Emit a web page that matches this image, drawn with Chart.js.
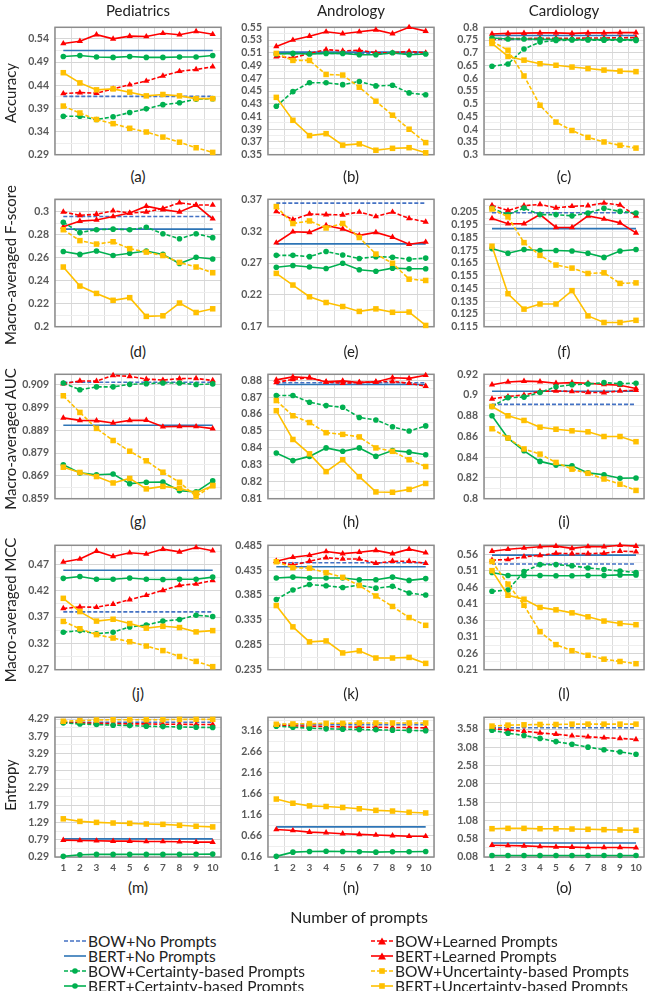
<!DOCTYPE html>
<html>
<head>
<meta charset="utf-8">
<script src="https://cdn.jsdelivr.net/npm/chart.js@4.4.1/dist/chart.umd.min.js"></script>
<style>
  body { margin: 0; background: #fff; }
  #page { position: relative; width: 647px; height: 991px; overflow: hidden; font-family: Lato, "Open Sans", sans-serif; color: #222; }
  canvas { position: absolute; }
  .txt { position: absolute; white-space: nowrap; transform: translate(-50%, -50%); }
  .ytitle { position: absolute; white-space: nowrap; transform: translate(-50%, -50%) rotate(-90deg); font-size: 15px; }
  .legend-item { position: absolute; white-space: nowrap; font-size: 15.5px; display: flex; align-items: center; transform: translateY(-50%); }
  .legend-item svg { margin-right: 2px; }
</style>
</head>
<body>
<div id="page"></div>
<script>
// x categories
const prompts = ['1', '2', '3', '4', '5', '6', '7', '8', '9', '10']
const seriesNames = ['BOW+No Prompts', 'BERT+No Prompts', 'BOW+Learned Prompts', 'BERT+Learned Prompts',
  'BOW+Certainty-based Prompts', 'BERT+Certainty-based Prompts', 'BOW+Uncertainty-based Prompts', 'BERT+Uncertainty-based Prompts']
const columns = ['Pediatrics', 'Andrology', 'Cardiology']
const metrics = ['Accuracy', 'Macro-averaged F-score', 'Macro-averaged AUC', 'Macro-averaged MCC', 'Entropy']
const panelLetters = ['(a)', '(b)', '(c)', '(d)', '(e)', '(f)', '(g)', '(h)', '(i)', '(j)', '(k)', '(l)', '(m)', '(n)', '(o)']

// each panel: BOW none, BERT none, BOW learned, BERT learned, BOW certainty, BERT certainty, BOW uncertainty, BERT uncertainty
const accPed = [
  [0.416, 0.416, 0.416, 0.416, 0.416, 0.416, 0.416, 0.416, 0.416, 0.416],
  [0.515, 0.515, 0.515, 0.515, 0.515, 0.515, 0.515, 0.515, 0.515, 0.515],
  [0.422, 0.424, 0.423, 0.432, 0.441, 0.449, 0.460, 0.470, 0.474, 0.480],
  [0.530, 0.535, 0.549, 0.540, 0.546, 0.545, 0.552, 0.549, 0.556, 0.550],
  [0.373, 0.373, 0.366, 0.372, 0.381, 0.389, 0.398, 0.402, 0.410, 0.411],
  [0.502, 0.504, 0.501, 0.500, 0.502, 0.500, 0.500, 0.501, 0.501, 0.504],
  [0.395, 0.380, 0.366, 0.357, 0.347, 0.339, 0.328, 0.317, 0.305, 0.295],
  [0.467, 0.445, 0.430, 0.432, 0.425, 0.417, 0.420, 0.417, 0.411, 0.411]
]
const accAnd = [
  [0.509, 0.509, 0.509, 0.509, 0.509, 0.509, 0.509, 0.509, 0.509, 0.509],
  [0.511, 0.511, 0.511, 0.511, 0.511, 0.511, 0.511, 0.511, 0.511, 0.511],
  [0.504, 0.502, 0.509, 0.515, 0.513, 0.514, 0.510, 0.510, 0.512, 0.510],
  [0.520, 0.530, 0.536, 0.543, 0.540, 0.543, 0.546, 0.540, 0.550, 0.544],
  [0.426, 0.449, 0.463, 0.463, 0.460, 0.465, 0.458, 0.459, 0.447, 0.444],
  [0.508, 0.509, 0.508, 0.509, 0.509, 0.507, 0.507, 0.510, 0.507, 0.508],
  [0.509, 0.498, 0.498, 0.476, 0.475, 0.456, 0.434, 0.412, 0.390, 0.369],
  [0.440, 0.404, 0.380, 0.383, 0.365, 0.367, 0.357, 0.360, 0.361, 0.353]
]
const accCar = [
  [0.752, 0.752, 0.752, 0.752, 0.752, 0.752, 0.752, 0.752, 0.752, 0.752],
  [0.768, 0.768, 0.768, 0.768, 0.768, 0.768, 0.768, 0.768, 0.768, 0.768],
  [0.755, 0.756, 0.756, 0.757, 0.757, 0.757, 0.758, 0.758, 0.759, 0.760],
  [0.774, 0.776, 0.777, 0.778, 0.778, 0.776, 0.778, 0.778, 0.779, 0.779],
  [0.647, 0.656, 0.715, 0.742, 0.748, 0.750, 0.750, 0.749, 0.750, 0.748],
  [0.758, 0.754, 0.754, 0.753, 0.753, 0.752, 0.752, 0.752, 0.752, 0.751],
  [0.745, 0.710, 0.609, 0.494, 0.428, 0.395, 0.368, 0.350, 0.337, 0.326],
  [0.737, 0.686, 0.671, 0.657, 0.651, 0.644, 0.638, 0.632, 0.628, 0.626]
]
const f1Ped = [
  [0.296, 0.296, 0.296, 0.296, 0.296, 0.296, 0.296, 0.296, 0.296, 0.296],
  [0.285, 0.285, 0.285, 0.285, 0.285, 0.285, 0.285, 0.285, 0.285, 0.285],
  [0.300, 0.297, 0.298, 0.301, 0.299, 0.300, 0.303, 0.308, 0.306, 0.306],
  [0.287, 0.292, 0.293, 0.296, 0.299, 0.305, 0.302, 0.300, 0.306, 0.294],
  [0.291, 0.282, 0.2845, 0.285, 0.2845, 0.2866, 0.281, 0.2766, 0.281, 0.2776],
  [0.2655, 0.263, 0.266, 0.262, 0.264, 0.266, 0.263, 0.255, 0.2605, 0.259],
  [0.2845, 0.275, 0.272, 0.274, 0.268, 0.265, 0.262, 0.256, 0.252, 0.247],
  [0.252, 0.2354, 0.229, 0.223, 0.2253, 0.209, 0.2095, 0.2206, 0.2124, 0.2156]
]
const f1And = [
  [0.364, 0.364, 0.364, 0.364, 0.364, 0.364, 0.364, 0.364, 0.364, 0.364],
  [0.300, 0.300, 0.300, 0.300, 0.300, 0.300, 0.300, 0.300, 0.300, 0.300],
  [0.351, 0.338, 0.347, 0.346, 0.3456, 0.350, 0.343, 0.350, 0.340, 0.3345],
  [0.3018, 0.319, 0.318, 0.329, 0.3235, 0.3134, 0.318, 0.3105, 0.2994, 0.303],
  [0.282, 0.282, 0.280, 0.288, 0.2826, 0.277, 0.280, 0.279, 0.2758, 0.2777],
  [0.2633, 0.266, 0.2638, 0.2614, 0.2696, 0.2595, 0.257, 0.2619, 0.261, 0.261],
  [0.3586, 0.332, 0.336, 0.325, 0.332, 0.310, 0.284, 0.2696, 0.2446, 0.2426],
  [0.2537, 0.2354, 0.217, 0.208, 0.2017, 0.194, 0.198, 0.1926, 0.193, 0.172]
]
const f1Car = [
  [0.2045, 0.2045, 0.2045, 0.2045, 0.2045, 0.2045, 0.2045, 0.2045, 0.2045, 0.2045],
  [0.192, 0.192, 0.192, 0.192, 0.192, 0.192, 0.192, 0.192, 0.192, 0.192],
  [0.2102, 0.2062, 0.210, 0.211, 0.2083, 0.2095, 0.210, 0.2121, 0.2105, 0.202],
  [0.200, 0.1958, 0.1958, 0.203, 0.1929, 0.1929, 0.202, 0.1995, 0.1965, 0.1886],
  [0.2079, 0.203, 0.2081, 0.203, 0.203, 0.202, 0.2043, 0.2079, 0.2055, 0.2043],
  [0.1763, 0.1727, 0.1756, 0.1748, 0.1748, 0.1744, 0.1727, 0.1694, 0.1744, 0.1756],
  [0.2074, 0.2012, 0.181, 0.171, 0.1634, 0.161, 0.1568, 0.1573, 0.149, 0.1494],
  [0.1782, 0.1409, 0.1288, 0.1328, 0.1328, 0.1433, 0.1235, 0.1183, 0.1183, 0.120]
]
const aucPed = [
  [0.910, 0.910, 0.910, 0.910, 0.910, 0.910, 0.910, 0.910, 0.910, 0.910],
  [0.8912, 0.8912, 0.8912, 0.8912, 0.8912, 0.8912, 0.8912, 0.8912, 0.8912, 0.8912],
  [0.9094, 0.9106, 0.9105, 0.913, 0.9126, 0.9114, 0.911, 0.9116, 0.9117, 0.9108],
  [0.8944, 0.8933, 0.8932, 0.8922, 0.8933, 0.8934, 0.8905, 0.8907, 0.8906, 0.8897],
  [0.9097, 0.9067, 0.908, 0.908, 0.9091, 0.9094, 0.9097, 0.9097, 0.909, 0.9093],
  [0.8739, 0.8703, 0.8695, 0.8698, 0.8656, 0.8662, 0.8663, 0.8625, 0.862, 0.8668],
  [0.9041, 0.8968, 0.8898, 0.8845, 0.8798, 0.8756, 0.8706, 0.8662, 0.8600, 0.8648],
  [0.8728, 0.8705, 0.8687, 0.8659, 0.8679, 0.8633, 0.8644, 0.8636, 0.8615, 0.8647]
]
const aucAnd = [
  [0.8785, 0.8785, 0.8785, 0.8785, 0.8785, 0.8785, 0.8785, 0.8785, 0.8785, 0.8785],
  [0.8775, 0.8775, 0.8775, 0.8775, 0.8775, 0.8775, 0.8775, 0.8775, 0.8775, 0.8775],
  [0.8787, 0.8805, 0.8815, 0.879, 0.8782, 0.8787, 0.879, 0.8793, 0.8782, 0.8765],
  [0.8802, 0.882, 0.8815, 0.879, 0.8796, 0.8787, 0.879, 0.8815, 0.8811, 0.8829],
  [0.871, 0.871, 0.867, 0.865, 0.864, 0.858, 0.8565, 0.8525, 0.850, 0.853],
  [0.837, 0.8325, 0.835, 0.840, 0.838, 0.840, 0.835, 0.8385, 0.8375, 0.836],
  [0.868, 0.859, 0.855, 0.849, 0.848, 0.8465, 0.840, 0.838, 0.833, 0.829],
  [0.862, 0.845, 0.8365, 0.826, 0.833, 0.823, 0.814, 0.8138, 0.8155, 0.819]
]
const aucCar = [
  [0.891, 0.891, 0.891, 0.891, 0.891, 0.891, 0.891, 0.891, 0.891, 0.891],
  [0.9037, 0.9037, 0.9037, 0.9037, 0.9037, 0.9037, 0.9037, 0.9037, 0.9037, 0.9037],
  [0.8963, 0.8986, 0.900, 0.9035, 0.904, 0.9034, 0.9026, 0.9023, 0.904, 0.9046],
  [0.910, 0.9126, 0.9134, 0.9129, 0.9114, 0.912, 0.9114, 0.9103, 0.9094, 0.9063],
  [0.889, 0.8975, 0.898, 0.9025, 0.908, 0.910, 0.9106, 0.912, 0.911, 0.9114],
  [0.880, 0.8584, 0.8462, 0.836, 0.8324, 0.8318, 0.8249, 0.8231, 0.8197, 0.820],
  [0.8675, 0.8585, 0.848, 0.843, 0.835, 0.8285, 0.8245, 0.819, 0.814, 0.808],
  [0.889, 0.880, 0.8755, 0.869, 0.867, 0.8655, 0.8645, 0.860, 0.860, 0.855]
]
const mccPed = [
  [0.380, 0.380, 0.380, 0.380, 0.380, 0.380, 0.380, 0.380, 0.380, 0.380],
  [0.459, 0.459, 0.459, 0.459, 0.459, 0.459, 0.459, 0.459, 0.459, 0.459],
  [0.3864, 0.3893, 0.3887, 0.3946, 0.4033, 0.4115, 0.4209, 0.4302, 0.4332, 0.4396],
  [0.4747, 0.4805, 0.4953, 0.4853, 0.4923, 0.490, 0.4993, 0.494, 0.5023, 0.4963],
  [0.3413, 0.3443, 0.3384, 0.3413, 0.3513, 0.3548, 0.3624, 0.3653, 0.3735, 0.3712],
  [0.4437, 0.4472, 0.442, 0.442, 0.4443, 0.442, 0.4414, 0.442, 0.442, 0.446],
  [0.3618, 0.3478, 0.3367, 0.3302, 0.3232, 0.315, 0.3063, 0.2951, 0.2858, 0.2758],
  [0.4057, 0.3805, 0.3624, 0.3659, 0.3577, 0.349, 0.3525, 0.3501, 0.3419, 0.3443]
]
const mccAnd = [
  [0.450, 0.450, 0.450, 0.450, 0.450, 0.450, 0.450, 0.450, 0.450, 0.450],
  [0.442, 0.442, 0.442, 0.442, 0.442, 0.442, 0.442, 0.442, 0.442, 0.442],
  [0.453, 0.445, 0.453, 0.4603, 0.4574, 0.4574, 0.4489, 0.453, 0.453, 0.4489],
  [0.453, 0.461, 0.465, 0.4724, 0.4683, 0.4711, 0.4747, 0.4683, 0.4772, 0.470],
  [0.376, 0.3952, 0.4061, 0.4037, 0.4001, 0.4049, 0.3989, 0.4025, 0.3892, 0.385],
  [0.4193, 0.4211, 0.4193, 0.4193, 0.4193, 0.4157, 0.4157, 0.4211, 0.4145, 0.4181],
  [0.452, 0.440, 0.439, 0.430, 0.4206, 0.4043, 0.3832, 0.3621, 0.3398, 0.3242],
  [0.3639, 0.3211, 0.291, 0.2928, 0.2687, 0.2729, 0.2585, 0.2585, 0.2597, 0.2477]
]
const mccCar = [
  [0.531, 0.531, 0.531, 0.531, 0.531, 0.531, 0.531, 0.531, 0.531, 0.531],
  [0.558, 0.558, 0.558, 0.558, 0.558, 0.558, 0.558, 0.558, 0.558, 0.558],
  [0.543, 0.5448, 0.5533, 0.5572, 0.5637, 0.5628, 0.5628, 0.5637, 0.5703, 0.5684],
  [0.570, 0.5758, 0.5798, 0.5834, 0.5854, 0.5787, 0.5843, 0.5834, 0.5882, 0.5854],
  [0.4482, 0.4519, 0.5082, 0.5294, 0.5294, 0.5257, 0.5192, 0.5146, 0.510, 0.5054],
  [0.5054, 0.4962, 0.4962, 0.4962, 0.4955, 0.4955, 0.4962, 0.4962, 0.498, 0.498],
  [0.5386, 0.470, 0.4058, 0.3255, 0.2862, 0.2677, 0.2538, 0.242, 0.235, 0.2283],
  [0.511, 0.4362, 0.4242, 0.3993, 0.3919, 0.3827, 0.3707, 0.3578, 0.3504, 0.3467]
]
const entPed = [
  [4.196, 4.196, 4.196, 4.196, 4.196, 4.196, 4.196, 4.196, 4.196, 4.196],
  [0.815, 0.815, 0.815, 0.815, 0.815, 0.815, 0.815, 0.815, 0.815, 0.815],
  [4.196, 4.177, 4.167, 4.158, 4.148, 4.148, 4.139, 4.139, 4.13, 4.13],
  [0.778, 0.768, 0.759, 0.75, 0.75, 0.74, 0.74, 0.73, 0.72, 0.72],
  [4.177, 4.148, 4.13, 4.11, 4.10, 4.08, 4.07, 4.06, 4.05, 4.045],
  [0.309, 0.356, 0.365, 0.365, 0.365, 0.365, 0.365, 0.365, 0.370, 0.374],
  [4.224, 4.243, 4.262, 4.27, 4.27, 4.27, 4.27, 4.28, 4.28, 4.28],
  [1.397, 1.322, 1.294, 1.275, 1.266, 1.247, 1.237, 1.209, 1.181, 1.162]
]
const entAnd = [
  [3.306, 3.306, 3.306, 3.306, 3.306, 3.306, 3.306, 3.306, 3.306, 3.306],
  [0.875, 0.875, 0.875, 0.875, 0.875, 0.875, 0.875, 0.875, 0.875, 0.875],
  [3.291, 3.275, 3.268, 3.26, 3.252, 3.245, 3.245, 3.237, 3.237, 3.229],
  [0.814, 0.79, 0.752, 0.737, 0.714, 0.698, 0.683, 0.668, 0.652, 0.652],
  [3.268, 3.245, 3.222, 3.206, 3.198, 3.191, 3.183, 3.175, 3.168, 3.16],
  [0.175, 0.275, 0.291, 0.298, 0.291, 0.283, 0.275, 0.283, 0.283, 0.291],
  [3.314, 3.322, 3.329, 3.337, 3.337, 3.345, 3.345, 3.345, 3.345, 3.345],
  [1.537, 1.437, 1.375, 1.36, 1.337, 1.306, 1.268, 1.252, 1.222, 1.206]
]
const entCar = [
  [3.615, 3.615, 3.615, 3.615, 3.615, 3.615, 3.615, 3.615, 3.615, 3.615],
  [0.463, 0.463, 0.463, 0.463, 0.463, 0.463, 0.463, 0.463, 0.463, 0.463],
  [3.589, 3.553, 3.518, 3.474, 3.438, 3.394, 3.368, 3.341, 3.323, 3.297],
  [0.402, 0.393, 0.384, 0.367, 0.358, 0.35, 0.341, 0.341, 0.341, 0.332],
  [3.545, 3.465, 3.403, 3.323, 3.235, 3.164, 3.084, 3.014, 2.952, 2.89],
  [0.123, 0.123, 0.123, 0.122, 0.122, 0.122, 0.121, 0.121, 0.121, 0.121],
  [3.66, 3.686, 3.695, 3.704, 3.704, 3.713, 3.713, 3.713, 3.713, 3.713],
  [0.854, 0.863, 0.863, 0.854, 0.854, 0.845, 0.837, 0.828, 0.819, 0.81]
]

// y tick labels per panel
const accPedTicks = ['0.29', '0.34', '0.39', '0.44', '0.49', '0.54']
const accAndTicks = ['0.35', '0.37', '0.39', '0.41', '0.43', '0.45', '0.47', '0.49', '0.51', '0.53', '0.55']
const accCarTicks = ['0.3', '0.35', '0.4', '0.45', '0.5', '0.55', '0.6', '0.65', '0.7', '0.75', '0.8']
const f1PedTicks = ['0.2', '0.22', '0.24', '0.26', '0.28', '0.3']
const f1AndTicks = ['0.17', '0.22', '0.27', '0.32', '0.37']
const f1CarTicks = ['0.115', '0.125', '0.135', '0.145', '0.155', '0.165', '0.175', '0.185', '0.195', '0.205']
const aucPedTicks = ['0.859', '0.869', '0.879', '0.889', '0.899', '0.909']
const aucAndTicks = ['0.81', '0.82', '0.83', '0.84', '0.85', '0.86', '0.87', '0.88']
const aucCarTicks = ['0.8', '0.82', '0.84', '0.86', '0.88', '0.9', '0.92']
const mccPedTicks = ['0.27', '0.32', '0.37', '0.42', '0.47']
const mccAndTicks = ['0.235', '0.285', '0.335', '0.385', '0.435', '0.485']
const mccCarTicks = ['0.21', '0.26', '0.31', '0.36', '0.41', '0.46', '0.51', '0.56']
const entPedTicks = ['0.29', '0.79', '1.29', '1.79', '2.29', '2.79', '3.29', '3.79', '4.29']
const entAndTicks = ['0.16', '0.66', '1.16', '1.66', '2.16', '2.66', '3.16']
const entCarTicks = ['0.08', '0.58', '1.08', '1.58', '2.08', '2.58', '3.08', '3.58']

// axis ranges [min, max]
const ranges = [
  [0.29, 0.565], [0.35, 0.55], [0.3, 0.8],
  [0.2, 0.311], [0.17, 0.37], [0.115, 0.215],
  [0.859, 0.9135], [0.81, 0.8835], [0.8, 0.92],
  [0.27, 0.5065], [0.235, 0.485], [0.21, 0.588],
  [0.29, 4.34], [0.16, 3.48], [0.08, 3.9]
]

const panelData = [accPed, accAnd, accCar, f1Ped, f1And, f1Car, aucPed, aucAnd, aucCar, mccPed, mccAnd, mccCar, entPed, entAnd, entCar]
const panelTicks = [accPedTicks, accAndTicks, accCarTicks, f1PedTicks, f1AndTicks, f1CarTicks, aucPedTicks, aucAndTicks, aucCarTicks,
  mccPedTicks, mccAndTicks, mccCarTicks, entPedTicks, entAndTicks, entCarTicks]

// layout of plot boxes (page pixels)
const colLeft = [55, 268, 484]
const colWidth = [166, 166, 160]
const rowTop = [23, 195, 370, 541, 713]
const rowHeight = [140, 140, 137, 137, 144]
const yAxisW = 44

const seriesStyle = [
  { color: '#4472C4', dash: [4, 2], point: false },
  { color: '#2E75B6', dash: [], point: false },
  { color: '#FF0000', dash: [4, 2], point: 'triangle' },
  { color: '#FF0000', dash: [], point: 'triangle' },
  { color: '#00B050', dash: [4, 2], point: 'circle' },
  { color: '#00B050', dash: [], point: 'circle' },
  { color: '#FFC000', dash: [4, 2], point: 'rect' },
  { color: '#FFC000', dash: [], point: 'rect' }
]
const pointSize = { triangle: 3.6, circle: 2.8, rect: 3.9 }

const page = document.getElementById('page')

function addText(cls, text, x, y, css) {
  const d = document.createElement('div')
  d.className = cls
  d.textContent = text
  d.style.left = x + 'px'
  d.style.top = y + 'px'
  Object.assign(d.style, css || {})
  page.appendChild(d)
  return d
}

// the grey frame round each plot area
const frame = {
  id: 'frame',
  beforeDatasetsDraw(chart) {
    const a = chart.chartArea
    const c = chart.ctx
    c.save()
    c.strokeStyle = '#8c8c8c'
    c.lineWidth = 1.5
    c.strokeRect(a.left, a.top, a.right - a.left, a.bottom - a.top)
    c.restore()
  }
}

panelData.forEach((rows, p) => {
  const r = Math.floor(p / 3), col = p % 3
  const last = r === 4
  const labels = panelTicks[p]
  const [yMin, yMax] = ranges[p]
  const step = parseFloat(labels[1]) - parseFloat(labels[0])
  const tickObjs = []
  labels.forEach(l => {
    const v = parseFloat(l)
    tickObjs.push({ value: v, major: true, txt: l })
    if (v + step / 2 < yMax) tickObjs.push({ value: v + step / 2, major: false, txt: '' })
  })

  const padTop = 8, padBottom = last ? 0 : 4, xH = last ? 20 : 0
  const cv = document.createElement('canvas')
  const w = yAxisW + colWidth[col] + 6
  const h = padTop + rowHeight[r] + xH + padBottom
  cv.width = w; cv.height = h
  cv.style.width = w + 'px'; cv.style.height = h + 'px'
  cv.style.left = (colLeft[col] - yAxisW) + 'px'
  cv.style.top = (rowTop[r] - padTop) + 'px'
  page.appendChild(cv)

  new Chart(cv.getContext('2d'), {
    type: 'line',
    data: {
      labels: prompts,
      datasets: rows.map((vals, i) => {
        const s = seriesStyle[i]
        return {
          label: seriesNames[i],
          data: vals,
          borderColor: s.color,
          backgroundColor: s.color,
          borderWidth: 1.6,
          borderDash: s.dash,
          pointStyle: s.point || 'circle',
          pointRadius: s.point ? pointSize[s.point] : 0,
          pointBorderWidth: 0,
          tension: 0,
          clip: false,
          order: 8 - i
        }
      })
    },
    options: {
      responsive: false,
      animation: false,
      layout: { padding: { top: padTop, right: 6, bottom: padBottom, left: 0 } },
      plugins: { legend: { display: false }, tooltip: { enabled: false } },
      scales: {
        x: {
          offset: true,
          grid: { offset: true, color: '#dcdcdc', drawTicks: false },
          border: { display: false },
          ticks: {
            display: last, padding: 5, autoSkip: false, maxRotation: 0, minRotation: 0,
            color: '#595959', font: { family: 'Lato', size: 10, weight: 'bold' }
          },
          afterFit: s => { s.height = xH }
        },
        y: {
          min: yMin,
          max: yMax,
          afterBuildTicks: s => { s.ticks = tickObjs.map(t => ({ ...t })) },
          afterFit: s => { s.width = yAxisW },
          grid: {
            drawTicks: false,
            color: c => (c.tick && c.tick.major) ? '#d6d6d6' : '#eeeeee'
          },
          border: { display: false },
          ticks: {
            autoSkip: false,
            padding: 6,
            color: '#595959',
            font: { family: 'Lato', size: 10.5, weight: 'bold' },
            callback: (v, i, t) => t[i].txt
          }
        }
      }
    },
    plugins: [frame]
  })

  const cx = colLeft[col] + colWidth[col] / 2
  const letterY = [176, 351, 521, 693, 887][r]
  addText('txt', panelLetters[p], cx, letterY, { fontSize: '15px' })
})

// column titles
columns.forEach((c, i) => addText('txt', c, colLeft[i] + colWidth[i] / 2, 10, { fontSize: '15px' }))
// row titles
metrics.forEach((m, r) => addText('ytitle', m, 10, rowTop[r] + rowHeight[r] / 2))
addText('txt', 'Number of prompts', 359, 916, { fontSize: '16px' })

// legend: left column holds no-prompt and certainty series, right column learned and uncertainty
function sample(i) {
  const s = seriesStyle[i]
  let mk = ''
  if (s.point === 'triangle') mk = `<polygon points="11,1.5 15,8.5 7,8.5" fill="${s.color}"/>`
  if (s.point === 'circle') mk = `<circle cx="11" cy="5" r="2.8" fill="${s.color}"/>`
  if (s.point === 'rect') mk = `<rect x="8.2" y="2.2" width="5.6" height="5.6" fill="${s.color}"/>`
  const dash = s.dash.length ? `stroke-dasharray="${s.dash.join(',')}"` : ''
  return `<svg width="22" height="10"><line x1="0" y1="5" x2="22" y2="5" stroke="${s.color}" stroke-width="1.6" ${dash}/>${mk}</svg>`
}
const legendX = [64, 371]
const legendY = [941, 956, 971, 986]
const legendSlots = [[0, 0], [0, 1], [1, 0], [1, 1], [0, 2], [0, 3], [1, 2], [1, 3]]
seriesNames.forEach((n, i) => {
  const [c, row] = legendSlots[i]
  const d = document.createElement('div')
  d.className = 'legend-item'
  d.style.left = legendX[c] + 'px'
  d.style.top = legendY[row] + 'px'
  d.innerHTML = sample(i) + '<span></span>'
  d.querySelector('span').textContent = n
  page.appendChild(d)
})
</script>
</body>
</html>
